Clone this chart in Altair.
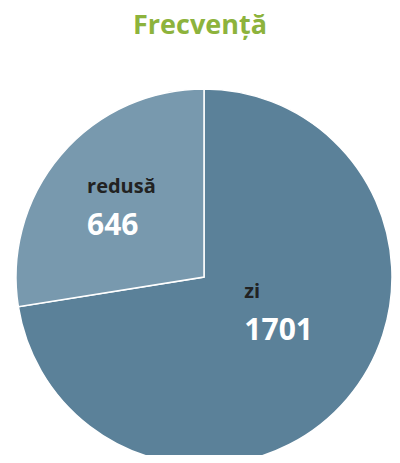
import altair as alt
import pandas as pd

categories = ["zi", "redusă"]
values = [1701, 646]
order = [0, 1]
colors = ["#5b8199", "#7899ae"]
# label layout per slice (pixel radius and horizontal nudge)
label_r = [53, 109]
label_dx = [0, -34]

df = pd.DataFrame({
    "cat": categories,
    "val": values,
    "ord": order,
    "lr": label_r,
    "ldx": label_dx,
})

pie = alt.Chart(df).mark_arc(outerRadius=188, stroke="white", strokeWidth=1.5).encode(
    theta=alt.Theta("val:Q", stack=True),
    order=alt.Order("ord:Q"),
    color=alt.Color("cat:N", scale=alt.Scale(domain=categories, range=colors), legend=None),
)

lab = alt.Chart(df).transform_window(
    cum="sum(val)", sort=[alt.SortField("ord")]
).transform_calculate(
    mid="datum.cum - datum.val / 2"
).encode(
    theta=alt.Theta("mid:Q", stack=None),
    radius=alt.Radius("lr:Q", scale=None),
    xOffset=alt.XOffset("ldx:Q", scale=None),
)

names = lab.mark_text(
    font="Open Sans", fontSize=20, fontWeight="bold", color="#222222",
    align="left", baseline="middle", dy=-19,
).encode(text="cat:N")

nums = lab.mark_text(
    font="Open Sans", fontSize=30, fontWeight="bold", color="white",
    align="left", baseline="middle", dy=20,
).encode(text="val:Q")

chart = alt.layer(pie, names, nums).properties(
    width=376,
    height=356,
    padding={"left": 8, "top": 91, "right": 0, "bottom": 0},
    autosize=alt.AutoSizeParams(type="none"),
    title=alt.TitleParams(
        "Frecvență", font="Open Sans", fontSize=27, fontWeight="bold",
        color="#8db33c", anchor="middle", offset=46, dx=-4,
    ),
).configure_view(stroke=None)

chart.save("out.html", embed_options={"renderer": "svg", "actions": False})
